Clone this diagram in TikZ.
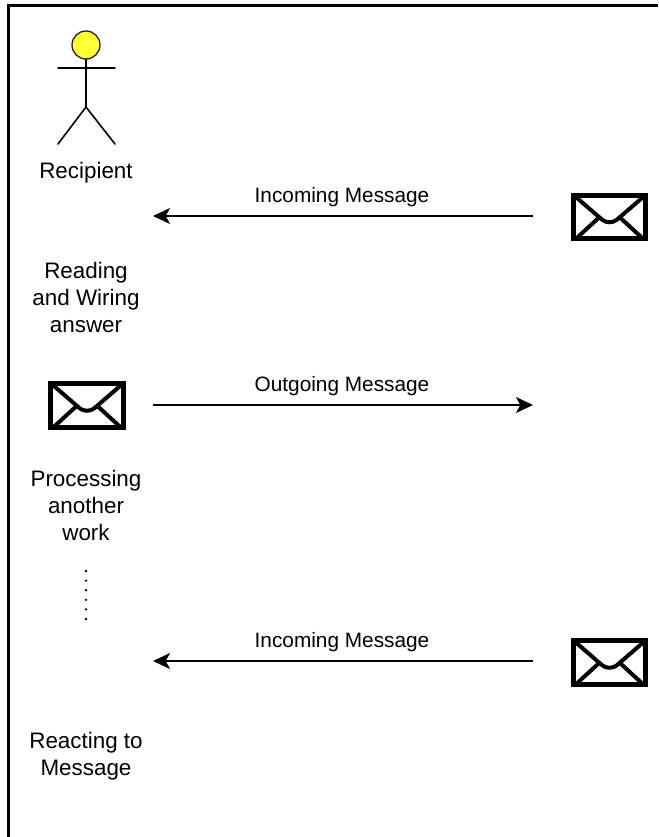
\documentclass[tikz,border=0pt]{standalone}
\usepackage{fontspec}
\setmainfont{Liberation Sans}
\usetikzlibrary{arrows.meta}
\definecolor{headyellow}{HTML}{FFFF33}
\tikzset{
    label text/.style={font=\fontsize{16.8pt}{20.25pt}\selectfont, align=center, inner sep=0pt},
    arrow text/.style={font=\fontsize{15.6pt}{20.25pt}\selectfont, align=center, inner sep=0pt},
    actor line/.style={line width=1.2pt, line cap=round},
    message arrow/.style={line width=1pt, -{Stealth[length=12.75pt, width=12pt, inset=3.2pt]}},
    envelope/.style={
            draw, line width=3.75pt, minimum width=54.4pt, minimum height=32.6pt, inner sep=0pt,
            path picture={
                    \draw[line width=3pt, shift={(path picture bounding box.center)}]
                    (-36, -22) -- (-7, 3) .. controls (-3, 6) and (3, 6) .. (7, 3) -- (36, -22)
                    (-36, 24) -- (-11, 1)
                    (36, 24) -- (11, 1);
                }
        },
}
\begin{document}
\begin{tikzpicture}[x=0.75pt, y=-0.75pt]
        \useasboundingbox (0, 0) rectangle (658, 837);
        %draw frame
        \draw[line width=2.25pt] (8, 837) -- (8, 6) -- (658, 6);
        %draw actor
        \node[circle, draw=black!85, fill=headyellow, line width=1pt, minimum size=21pt, inner sep=0pt] (head) at (86, 45) {};
        \coordinate (hip) at (86, 107);
        \coordinate (armleft) at (58, 68);
        \coordinate (armright) at (115, 68);
        \coordinate (footleft) at (58, 144);
        \coordinate (footright) at (115, 144);
        \draw[actor line] (head) -- (hip);
        \draw[actor line] (armleft) -- (armright);
        \draw[actor line] (footleft) -- (hip) -- (footright);
        %draw labels on the left
        \node[label text] (recipient) at (86, 173) {Recipient};
        \node[label text] (reading) at (86, 297) {Reading\\and Wiring\\answer};
        \node[label text] (processing) at (86, 505) {Processing\\another\\work};
        \node[label text] (reacting) at (86, 756) {Reacting to\\Message};
        %draw envelopes
        \node[envelope] (mailone) at (609.5, 217) {};
        \node[envelope] (mailtwo) at (87, 405.5) {};
        \node[envelope] (mailthree) at (609.5, 662.5) {};
        %draw dots
        \foreach \i in {0,...,5}
            \fill (86, 571 + 9.6*\i) circle (1.3);
        %draw arrows
        \coordinate (inonestart) at (533, 216);
        \coordinate (inoneend) at (153, 216);
        \coordinate (outstart) at (153, 405);
        \coordinate (outend) at (533, 405);
        \coordinate (intwostart) at (533, 661);
        \coordinate (intwoend) at (153, 661);
        \draw[message arrow] (inonestart) -- (inoneend);
        \draw[message arrow] (outstart) -- (outend);
        \draw[message arrow] (intwostart) -- (intwoend);
        %draw arrow labels
        \node[arrow text] (inonelabel) at (342, 197) {Incoming Message};
        \node[arrow text] (outlabel) at (342, 386) {Outgoing Message};
        \node[arrow text] (intwolabel) at (342, 642) {Incoming Message};
    \end{tikzpicture}
\end{document}
